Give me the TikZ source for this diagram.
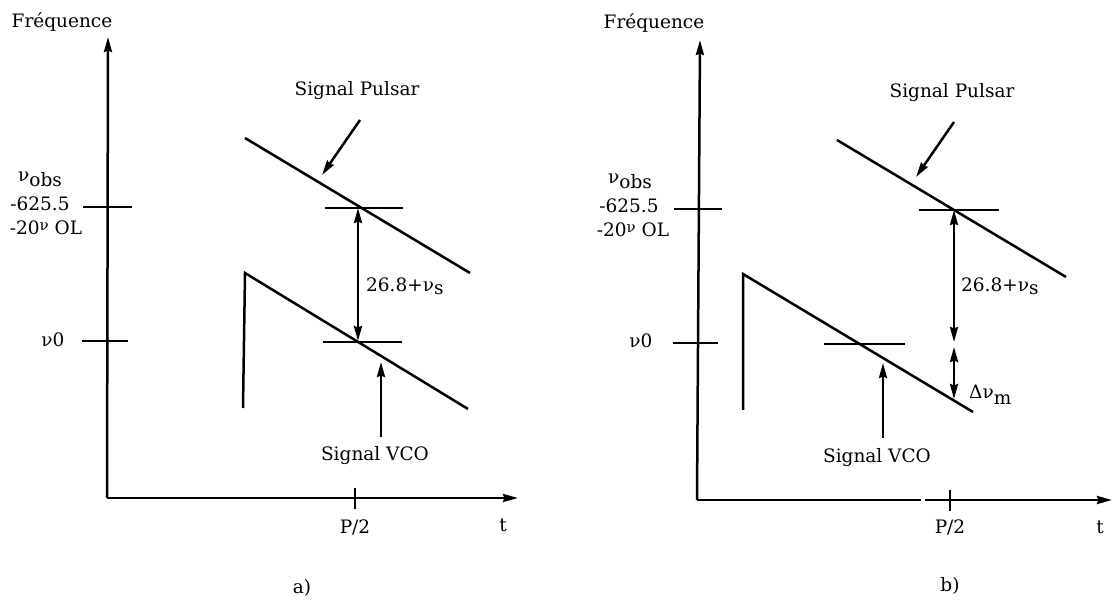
\documentclass[tikz,border=0pt]{standalone}
\usepackage{fontspec}
\setmainfont{DejaVu Serif}
\usetikzlibrary{arrows.meta}
\tikzset{
  tip/.tip={Stealth[length=15pt,width=8pt,inset=1.5pt]},
  ln/.style={line width=2.5pt},
  ax/.style={line width=2.5pt,-tip},
  dbl/.style={line width=2.5pt,tip-tip},
  lbl/.style={font=\fontsize{18.5}{22}\selectfont,inner sep=0pt},
}
\newcommand{\supnu}{\raisebox{0.4ex}{\fontsize{15}{15}\selectfont ν}}
\begin{document}
\begin{tikzpicture}[x=1pt,y=-1pt]
\useasboundingbox (0,0) rectangle (1114,601);
% ===== panel a =====
\coordinate (ao) at (107,498);
\coordinate (atop) at (108,37);
\coordinate (aend) at (518,498);
\draw[ax] (ao) -- (atop);
\draw[ax] (ao) -- (aend);
\node[lbl] (afreq) at (62,22) {Fréquence};
\coordinate (at1l) at (83,207); \coordinate (at1r) at (132,207);
\draw[ln] (at1l) -- (at1r);
\coordinate (at2l) at (82,341); \coordinate (at2r) at (128,341);
\draw[ln] (at2l) -- (at2r);
\node[lbl] (aobs) at (40,179) {ν\raisebox{-0.5ex}{obs}};
\node[lbl] (a625) at (40,204) {-625.5};
\node[lbl] (aol) at (46,228) {-20\supnu{} OL};
\node[lbl] (anu0) at (53,340) {ν0};
\coordinate (apt1) at (355,488); \coordinate (apt2) at (355,509);
\draw[ln] (apt1) -- (apt2);
\node[lbl] (ap2) at (355,527) {P/2};
\node[lbl] (at) at (503,525) {t};
\node[lbl] (acap) at (302,588) {a)};
% pulsar
\coordinate (ap1) at (245,138); \coordinate (ap2c) at (470,273);
\draw[ln] (ap1) -- (ap2c);
\node[lbl] (apuls) at (357,91) {Signal Pulsar};
\coordinate (apa1) at (360,120); \coordinate (apa2) at (322,175);
\draw[ax] (apa1) -- (apa2);
\coordinate (ah1l) at (325,208); \coordinate (ah1r) at (403,208);
\draw[ln] (ah1l) -- (ah1r);
\coordinate (ah2l) at (323,342); \coordinate (ah2r) at (402,342);
\draw[ln] (ah2l) -- (ah2r);
\coordinate (ad1) at (358,208); \coordinate (ad2) at (358,341);
\draw[dbl] (ad2) -- (ad1);
\node[lbl,anchor=west] (alab) at (366,286) {26.8+ν\raisebox{-0.35ex}{s}};
% vco
\coordinate (av1) at (243,408); \coordinate (av2) at (245,273); \coordinate (av3) at (468,409);
\draw[ln,line join=miter] (av1) -- (av2) -- (av3);
\coordinate (ava1) at (381,437); \coordinate (ava2) at (381,362);
\draw[ax] (ava1) -- (ava2);
\node[lbl] (avco) at (375,456) {Signal VCO};
% ===== panel b =====
\coordinate (bo) at (697,500);
\coordinate (btop) at (700,40);
\coordinate (bg1) at (921,500);
\coordinate (bg2) at (925,500);
\coordinate (bend) at (1112,500);
\draw[ax] (bo) -- (btop);
\draw[ln] (bo) -- (bg1);
\draw[ax] (bg2) -- (bend);
\node[lbl] (bfreq) at (654,23) {Fréquence};
\coordinate (bt1l) at (674,209); \coordinate (bt1r) at (722,209);
\draw[ln] (bt1l) -- (bt1r);
\coordinate (bt2l) at (673,343); \coordinate (bt2r) at (718,343);
\draw[ln] (bt2l) -- (bt2r);
\node[lbl] (bobs) at (630,181) {ν\raisebox{-0.5ex}{obs}};
\node[lbl] (b625) at (629,206) {-625.5};
\node[lbl] (bol) at (633,230) {-20\supnu{} OL};
\node[lbl] (bnu0) at (641,341) {ν0};
\coordinate (bpt1) at (950,490); \coordinate (bpt2) at (950,511);
\draw[ln] (bpt1) -- (bpt2);
\node[lbl] (bp2) at (950,527) {P/2};
\node[lbl] (bt) at (1100,527) {t};
\node[lbl] (bcap) at (950,586) {b)};
% pulsar
\coordinate (bp1) at (837,140); \coordinate (bp2c) at (1066,277);
\draw[ln] (bp1) -- (bp2c);
\node[lbl] (bpuls) at (952,93) {Signal Pulsar};
\coordinate (bpa1) at (954,122); \coordinate (bpa2) at (916,177);
\draw[ax] (bpa1) -- (bpa2);
\coordinate (bh1l) at (919,210); \coordinate (bh1r) at (999,210);
\draw[ln] (bh1l) -- (bh1r);
\coordinate (bh2l) at (824,344); \coordinate (bh2r) at (905,344);
\draw[ln] (bh2l) -- (bh2r);
\coordinate (bd1) at (954,210); \coordinate (bd2) at (954,342);
\draw[dbl] (bd2) -- (bd1);
\coordinate (bd3) at (954,347); \coordinate (bd4) at (954,399);
\draw[dbl] (bd3) -- (bd4);
\node[lbl,anchor=west] (blab) at (961,286) {26.8+ν\raisebox{-0.35ex}{s}};
\node[lbl,anchor=west] (bdm) at (969,395) {Δν\raisebox{-0.6ex}{m}};
% vco
\coordinate (bv1) at (743,410); \coordinate (bv2) at (743,274); \coordinate (bv3) at (973,412);
\draw[ln,line join=miter] (bv1) -- (bv2) -- (bv3);
\coordinate (bva1) at (883,438); \coordinate (bva2) at (883,363);
\draw[ax] (bva1) -- (bva2);
\node[lbl] (bvco) at (877,458) {Signal VCO};
\end{tikzpicture}
\end{document}
